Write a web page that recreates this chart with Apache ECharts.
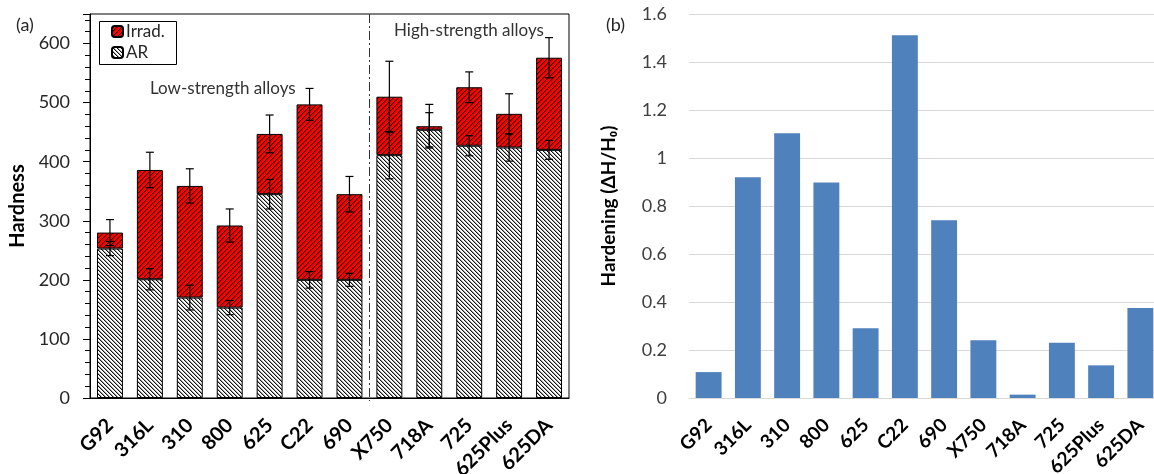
<!DOCTYPE html>
<html>
<head>
<meta charset="utf-8">
<script src="https://cdn.jsdelivr.net/npm/echarts@6/dist/echarts.min.js"></script>
<style>
html,body{margin:0;padding:0;background:#fff;}
#chart{width:1154px;height:474px;}
</style>
</head>
<body>
<div id="chart"></div>
<script>
// ---- data ----
var categories = ['G92','316L','310','800','625','C22','690','X750','718A','725','625Plus','625DA'];
var arHardness = [253,201,170,153,345,200,200,411,454,427,424,420];
var arError = [12,18,21,12,25,14,11,40,29,17,23,16];
var irradHardness = [280,386,359,292,447,497,345,510,460,526,481,576];
var irradError = [22,30,29,28,32,27,30,60,37,26,34,34];
var hardening = [0.108,0.920,1.103,0.898,0.291,1.511,0.741,0.241,0.014,0.230,0.136,0.375];
var leftTicks = {min:0, max:650, interval:100};
var rightTicks = {min:0, max:1.6, interval:0.2};
var groupBoundaryIndex = 6; // divider after '690'

// ---- patterns ----
function makePattern(bg, size, rule) {
  var c = document.createElement('canvas');
  c.width = size; c.height = size;
  var ctx = c.getContext('2d');
  ctx.fillStyle = bg; ctx.fillRect(0,0,size,size);
  for (var x=0;x<size;x++) for (var y=0;y<size;y++) {
    var col = rule(x,y);
    if (col) { ctx.fillStyle = col; ctx.fillRect(x,y,1,1); }
  }
  return {image: c, repeat: 'repeat'};
}
var arPattern = makePattern('#ffffff', 4, function(x,y){
  var m = ((x - y) % 4 + 4) % 4;
  return m === 0 ? '#111111' : (m === 1 ? '#a0a0a0' : null);
});
var irradPattern = makePattern('#ff0000', 5, function(x,y){
  var m = (x + y) % 5;
  return m === 0 ? '#200000' : (m === 1 ? '#c00000' : null);
});

var irradIncrement = irradHardness.map(function(v,i){ return v - arHardness[i]; });
var arErrData = arHardness.map(function(v,i){ return [i, v, arError[i]]; });
var irErrData = irradHardness.map(function(v,i){ return [i, v, irradError[i]]; });

function errorRender(params, api) {
  var i = api.value(0), v = api.value(1), e = api.value(2);
  var hi = api.coord([i, v + e]);
  var lo = api.coord([i, v - e]);
  var w = 4;
  var st = {stroke:'#000', lineWidth:1.2};
  return {type:'group', children:[
    {type:'line', shape:{x1:hi[0], y1:hi[1], x2:lo[0], y2:lo[1]}, style:st},
    {type:'line', shape:{x1:hi[0]-w, y1:hi[1], x2:hi[0]+w, y2:hi[1]}, style:st},
    {type:'line', shape:{x1:lo[0]-w, y1:lo[1], x2:lo[0]+w, y2:lo[1]}, style:st}
  ]};
}

var FONT = 'Lato';
var chart = echarts.init(document.getElementById('chart'), null, {renderer:'canvas'});
var option = {
  animation: false,
  textStyle: {fontFamily: FONT},
  legend: {
    data: ['Irrad.', 'AR'],
    orient: 'vertical',
    left: 111, top: 22,
    padding: 0,
    itemGap: 2,
    itemWidth: 11, itemHeight: 11,
    textStyle: {fontSize: 17, color: '#262626', fontFamily: FONT, lineHeight: 19, padding:[0,0,0,-2]},
    selectedMode: false
  },
  graphic: [
    {type:'rect', shape:{x:99.5, y:21.5, width:77, height:43}, style:{fill:'none', stroke:'#000', lineWidth:1}, z: 100},
    {type:'text', left: 16, top: 16, style:{text:'(a)', fontSize:18, fill:'#262626', fontFamily:FONT}},
    {type:'text', left: 606, top: 16, style:{text:'(b)', fontSize:18, fill:'#262626', fontFamily:FONT}},
    {type:'text', left: 150, top: 80, style:{text:'Low-strength alloys', fontSize:17, fill:'#333', fontFamily:FONT}},
    {type:'text', left: 394, top: 22, style:{text:'High-strength alloys', fontSize:17, fill:'#333', fontFamily:FONT}}
  ],
  grid: [
    {left: 90, right: 585, top: 14, bottom: 76, show: true, borderColor: '#000', borderWidth: 1, backgroundColor: 'transparent', containLabel:false, outerBoundsMode:'none'},
    {left: 689, right: -6, top: 14, bottom: 76, containLabel:false, outerBoundsMode:'none'}
  ],
  xAxis: [
    {type:'category', gridIndex:0, data: categories,
     axisLine:{lineStyle:{color:'#000', width:1}}, axisTick:{show:false},
     axisLabel:{rotate:45, interval:0, fontSize:20, fontWeight:'bold', color:'#000', margin:24, fontFamily:FONT}},
    {type:'category', gridIndex:1, data: categories,
     axisLine:{lineStyle:{color:'#d9d9d9', width:1}}, axisTick:{show:false},
     axisLabel:{rotate:45, interval:0, fontSize:19, fontWeight:'bold', color:'#000', margin:24, fontFamily:FONT}}
  ],
  yAxis: [
    {type:'value', gridIndex:0, min:leftTicks.min, max:leftTicks.max, interval:leftTicks.interval,
     name:'Hardness', nameLocation:'middle', nameGap:62, nameRotate:90,
     nameTextStyle:{fontSize:20, fontWeight:'bold', color:'#000', fontFamily:FONT},
     axisLine:{show:true, lineStyle:{color:'#000'}},
     axisTick:{show:true, length:7, lineStyle:{color:'#000'}},
     minorTick:{show:true, splitNumber:5, length:5, lineStyle:{color:'#000'}},
     splitLine:{show:false},
     axisLabel:{fontSize:18, color:'#262626', margin:20, showMaxLabel:false, fontFamily:FONT}},
    {type:'value', gridIndex:1, min:rightTicks.min, max:rightTicks.max, interval:rightTicks.interval,
     name:'Hardening (ΔH/H\u2080)', nameLocation:'middle', nameGap:71, nameRotate:90,
     nameTextStyle:{fontSize:19, fontWeight:'bold', color:'#000', fontFamily:FONT},
     axisLine:{show:false}, axisTick:{show:false},
     splitLine:{show:true, lineStyle:{color:'#d9d9d9', width:1}},
     axisLabel:{fontSize:18, color:'#404040', margin:22, fontFamily:FONT}}
  ],
  series: [
    {name:'AR', type:'bar', stack:'h', xAxisIndex:0, yAxisIndex:0, data: arHardness, barWidth:'65%',
     itemStyle:{color: arPattern, borderColor:'#000', borderWidth:1}},
    {name:'Irrad.', type:'bar', stack:'h', xAxisIndex:0, yAxisIndex:0, data: irradIncrement, barWidth:'65%',
     itemStyle:{color: irradPattern, borderColor:'#000', borderWidth:1}},
    {type:'custom', xAxisIndex:0, yAxisIndex:0, data: arErrData, renderItem: errorRender, z: 10, encode:{x:0, y:1}, silent:true},
    {type:'custom', xAxisIndex:0, yAxisIndex:0, data: irErrData, renderItem: errorRender, z: 10, encode:{x:0, y:1}, silent:true},
    {type:'custom', xAxisIndex:0, yAxisIndex:0, data: [[groupBoundaryIndex, 0]], z: 11, silent:true, encode:{x:0, y:1},
     renderItem: function(params, api){
       var cs = params.coordSys;
       var x = Math.round(api.coord([api.value(0), 0])[0] + api.size([1,0])[0]/2) + 0.5;
       return {type:'line', shape:{x1:x, y1:cs.y, x2:x, y2:cs.y + cs.height + 3},
               style:{stroke:'#333', lineWidth:1, lineDash:[9,3,2,3]}};
     }},
    {name:'Hardening', type:'bar', xAxisIndex:1, yAxisIndex:1, data: hardening, barWidth:'66%',
     itemStyle:{color:'#4f81bd'}}
  ]
};
chart.setOption(option);
</script>
</body>
</html>
